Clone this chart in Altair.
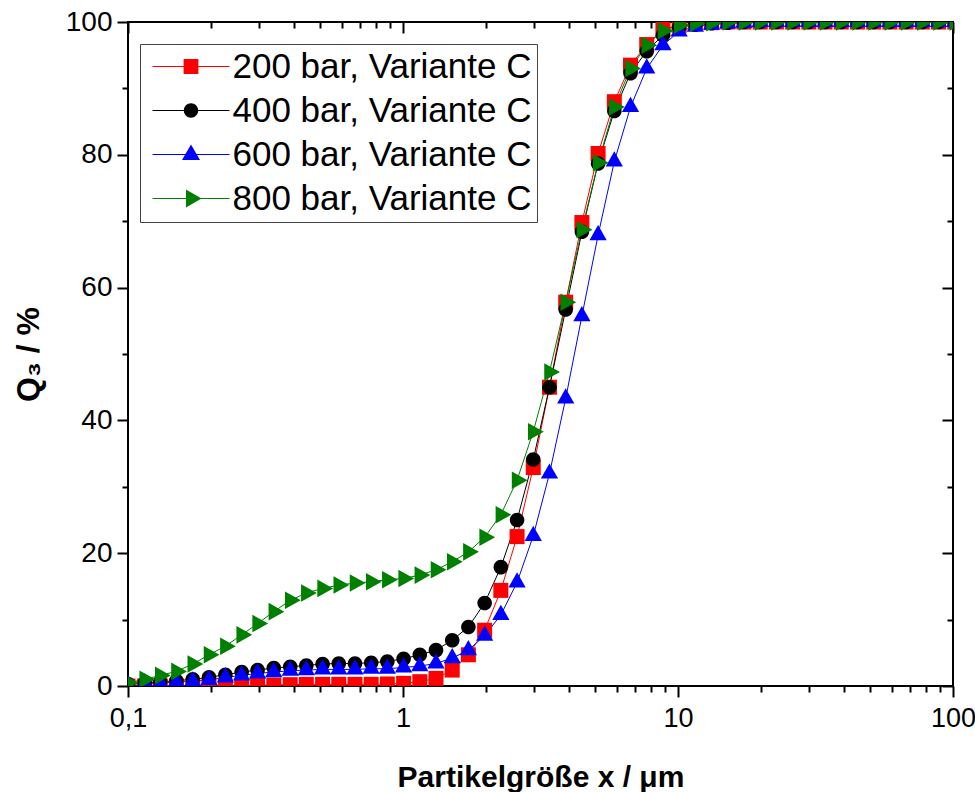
import altair as alt
import pandas as pd

FONT = "Liberation Sans"

# particle size classes (µm)
PARTICLE_SIZE = [0.1, 0.115, 0.131, 0.15, 0.172, 0.197, 0.226, 0.259, 0.296, 0.339,
                 0.389, 0.445, 0.51, 0.584, 0.669, 0.766, 0.877, 1.005, 1.151, 1.318,
                 1.51, 1.729, 1.981, 2.269, 2.599, 2.976, 3.409, 3.905, 4.472, 5.122,
                 5.867, 6.72, 7.696, 8.815, 10.097, 11.565, 13.246, 15.172, 17.377, 19.904,
                 22.797, 26.111, 29.907, 34.255, 39.234, 44.938, 51.471, 58.953, 67.523, 77.34,
                 88.583, 101.46]

SERIES = ["200 bar, Variante C", "400 bar, Variante C", "600 bar, Variante C", "800 bar, Variante C"]
COLORS = ["#ff0000", "#000000", "#0000ff", "#008000"]

Q3_200 = [0, 0, 0, 0, 0, 0, 0, 0.05, 0.1, 0.15,
          0.2, 0.25, 0.25, 0.25, 0.25, 0.25, 0.3, 0.4, 0.65, 1.15,
          2.4, 4.7, 8.4, 14.4, 22.5, 32.9, 45.0, 57.8, 69.8, 80.2,
          88.0, 93.5, 96.6, 98.9, 99.5, 99.8, 99.9, 100, 100, 100,
          100, 100, 100, 100, 100, 100, 100, 100, 100, 100,
          100, 100]
Q3_400 = [0.3, 0.5, 0.6, 0.8, 1.0, 1.3, 1.7, 2.1, 2.4, 2.7,
          2.9, 3.1, 3.3, 3.4, 3.4, 3.5, 3.7, 4.1, 4.7, 5.4,
          6.9, 8.9, 12.5, 17.9, 25.0, 34.1, 45.0, 56.7, 68.4, 78.7,
          86.6, 92.3, 95.6, 98.0, 99.2, 99.6, 99.8, 99.9, 100, 100,
          100, 100, 100, 100, 100, 100, 100, 100, 100, 100,
          100, 100]
Q3_600 = [0.2, 0.4, 0.4, 0.6, 0.7, 0.9, 1.3, 1.6, 1.9, 2.1,
          2.3, 2.4, 2.5, 2.5, 2.5, 2.6, 2.6, 2.8, 3.0, 3.4,
          4.2, 5.4, 7.6, 10.7, 15.6, 22.6, 32.0, 43.3, 55.7, 67.9,
          79.0, 87.2, 93.0, 96.5, 98.6, 99.3, 99.6, 99.8, 99.9, 100,
          100, 100, 100, 100, 100, 100, 100, 100, 100, 100,
          100, 100]
Q3_800 = [0.5, 1.0, 1.6, 2.2, 3.3, 4.7, 6.0, 7.7, 9.4, 11.2,
          12.9, 14.0, 14.7, 15.2, 15.5, 15.7, 16.0, 16.2, 16.7, 17.5,
          18.7, 20.2, 22.4, 25.8, 31.0, 38.3, 47.3, 57.8, 68.7, 78.8,
          87.2, 93.0, 96.5, 98.7, 99.5, 99.8, 99.9, 100, 100, 100,
          100, 100, 100, 100, 100, 100, 100, 100, 100, 100,
          100, 100]

X_MAJOR = [0.1, 1, 10, 100]
X_MINOR = [0.2, 0.3, 0.4, 0.5, 0.6, 0.7, 0.8, 0.9, 2, 3, 4, 5, 6, 7, 8, 9,
           20, 30, 40, 50, 60, 70, 80, 90]
Y_MAJOR = [0, 20, 40, 60, 80, 100]
Y_MINOR = [10, 30, 50, 70, 90]

# marker symbols (centroid at the data point)
MARKER_PATHS = [
    "M-1,-1H1V1H-1Z",
    "M-0.97,0A0.97,0.97 0 1,1 0.97,0A0.97,0.97 0 1,1 -0.97,0Z",
    "M0,-1.35L1.15,0.68L-1.15,0.68Z",
    "M1.4,0L-0.7,1.17L-0.7,-1.17Z",
]
# legend symbols: thin line plus marker
LEGEND_LINE = "M-3.85,-0.06H3.85V0.06H-3.85Z"
LEGEND_PATHS = [
    LEGEND_LINE + "M-0.74,-0.74H0.74V0.74H-0.74Z",
    LEGEND_LINE + "M-0.72,0A0.72,0.72 0 1,1 0.72,0A0.72,0.72 0 1,1 -0.72,0Z",
    LEGEND_LINE + "M0,-1L0.9,0.55L-0.9,0.55Z",
    LEGEND_LINE + "M1.05,0L-0.5,0.9L-0.5,-0.9Z",
]

rows = []
for name, vals in zip(SERIES, [Q3_200, Q3_400, Q3_600, Q3_800]):
    for x, q in zip(PARTICLE_SIZE, vals):
        rows.append({"series": name, "x": x, "q": q})
df = pd.DataFrame(rows)

W, H = 825, 664
xs = alt.Scale(type="log", domain=[0.1, 100], nice=False)
ys = alt.Scale(domain=[0, 100], nice=False, zero=False)
color_scale = alt.Scale(domain=SERIES, range=COLORS)
color = alt.Color("series:N", scale=color_scale, legend=None)


def tick_axis(orient, values, size, offset=0):
    return alt.Axis(orient=orient, values=values, tickSize=size, tickWidth=2,
                    tickColor="black", offset=offset, labels=False, domain=False,
                    grid=False, title=None)


main_x = alt.Axis(orient="bottom", values=X_MAJOR, tickSize=11, tickWidth=2, tickColor="black",
                  domain=False, grid=False,
                  labelExpr="replace(toString(datum.value), '.', ',')",
                  labelFont=FONT, labelFontSize=27, labelColor="black", labelPadding=8,
                  labelFlush=False, labelOverlap=False,
                  title="Partikelgröße x / μm", titleFont=FONT, titleFontSize=30,
                  titleFontWeight="bold", titleColor="black", titlePadding=31)
main_y = alt.Axis(orient="left", values=Y_MAJOR, tickSize=11, tickWidth=2, tickColor="black",
                  domain=False, grid=False,
                  labelFont=FONT, labelFontSize=28, labelColor="black", labelPadding=5,
                  labelFlush=False, labelOverlap=False,
                  title="Q₃ / %", titleFont=FONT, titleFontSize=32,
                  titleFontWeight="bold", titleColor="black", titlePadding=20)

base = alt.Chart(df)

lines = base.mark_line(strokeWidth=1, clip=True).encode(
    x=alt.X("x:Q", scale=xs, axis=main_x),
    y=alt.Y("q:Q", scale=ys, axis=main_y),
    color=color,
)

points = base.mark_point(filled=True, size=225, opacity=1, strokeWidth=0, clip=True).encode(
    x=alt.X("x:Q", scale=xs, axis=None),
    y=alt.Y("q:Q", scale=ys, axis=None),
    color=color,
    shape=alt.Shape("series:N", scale=alt.Scale(domain=SERIES, range=MARKER_PATHS), legend=None),
)

minor = base.mark_point(opacity=0).encode(
    x=alt.X("x:Q", scale=xs, axis=tick_axis("bottom", X_MINOR, 6)),
    y=alt.Y("q:Q", scale=ys, axis=tick_axis("left", Y_MINOR, 6)),
)

mirror_major = base.mark_point(opacity=0).encode(
    x=alt.X("x:Q", scale=xs, axis=tick_axis("bottom", X_MAJOR, 11, -H)),
    y=alt.Y("q:Q", scale=ys, axis=tick_axis("left", Y_MAJOR, 11, -W)),
)


def make_legend():
    return alt.Legend(
        title=None, orient="none", legendX=12, legendY=22,
        symbolSize=400, symbolOffset=28.5, labelOffset=24, symbolStrokeWidth=0, symbolOpacity=1,
        labelFont=FONT, labelFontSize=35, labelColor="black", labelLimit=0,
        rowPadding=8, padding=5, strokeColor="#444", fillColor="white",
    )


mirror_minor = base.mark_point(opacity=1, filled=True, size=0, strokeWidth=0).encode(
    x=alt.X("x:Q", scale=xs, axis=tick_axis("bottom", X_MINOR, 6, -H)),
    y=alt.Y("q:Q", scale=ys, axis=tick_axis("left", Y_MINOR, 6, -W)),
    color=alt.Color("series:N", scale=color_scale, legend=make_legend()),
    shape=alt.Shape("series:N", scale=alt.Scale(domain=SERIES, range=LEGEND_PATHS), legend=make_legend()),
)

chart = (
    alt.layer(lines, points, minor, mirror_major, mirror_minor)
    .resolve_scale(shape="independent", color="independent")
    .resolve_axis(x="independent", y="independent")
    .properties(width=W, height=H, autosize=alt.AutoSizeParams(type="none"),
                padding={"left": 128, "top": 22, "right": 22, "bottom": 106},
                background="white")
    .configure_view(stroke="black", strokeWidth=2)
)

chart.save("out.html", embed_options={"renderer": "svg", "actions": False})
